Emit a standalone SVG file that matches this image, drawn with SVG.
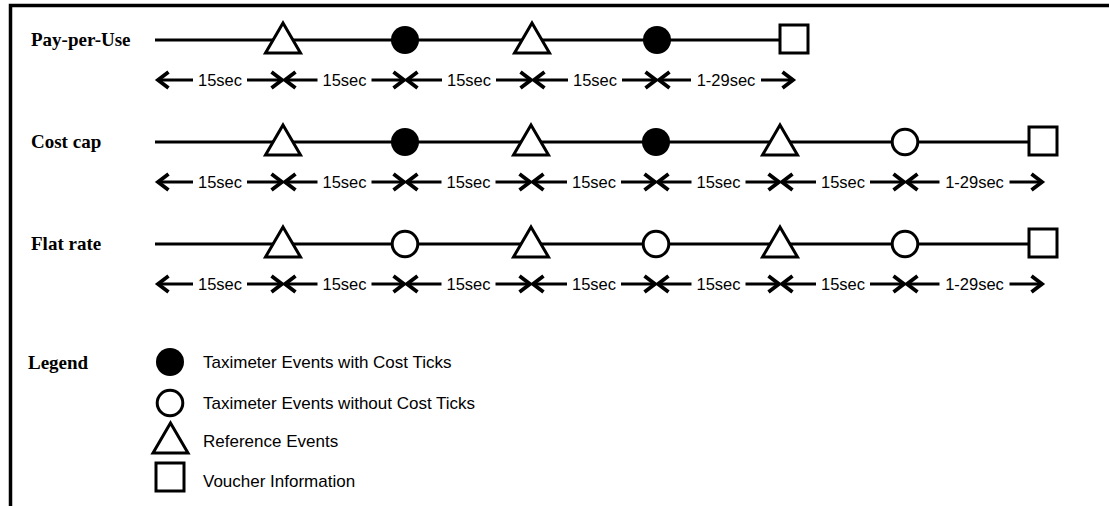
<svg xmlns="http://www.w3.org/2000/svg" width="1109" height="506" viewBox="0 0 1109 506">
<style>
.lbl{font-family:"Liberation Serif","Times New Roman",serif;font-weight:bold;font-size:19px;fill:#000}
.dt{font-family:"Liberation Sans",Arial,sans-serif;font-size:16.5px;fill:#000;text-anchor:middle}
.lt{font-family:"Liberation Sans",Arial,sans-serif;font-size:17px;fill:#000}
.tl{stroke:#000;stroke-width:3;fill:none}
.dl{stroke:#000;stroke-width:3;marker-start:url(#ah)}
.dr{stroke:#000;stroke-width:3;marker-end:url(#ah)}
.sh{stroke:#000;stroke-width:3;fill:#fff}
.fc{fill:#000;stroke:none}
</style>
<defs>
<marker id="ah" viewBox="-16 -11 20 22" markerWidth="20" markerHeight="22" refX="0" refY="0" orient="auto-start-reverse" markerUnits="userSpaceOnUse">
<path d="M-10.5,-8 L0,0 L-10.5,8" fill="none" stroke="#000" stroke-width="3.8"/>
</marker>
<path id="tri" d="M0,-17 L17.5,13 L-17.5,13 Z" class="sh"/>
<circle id="fcirc" r="14" class="fc"/>
<circle id="ocirc" r="12.8" class="sh"/>
<rect id="sq" x="-14" y="-15" width="28" height="28" class="sh"/>
</defs>
<rect width="1109" height="506" fill="#fff"/>
<g id="frame" stroke="#000" stroke-width="3.5" fill="none">
<path d="M10.5,506 V5.5 H1109"/>
</g>
<g id="labels">
<text class="lbl" x="31" y="46">Pay-per-Use</text>
<text class="lbl" x="31" y="148">Cost cap</text>
<text class="lbl" x="31" y="250">Flat rate</text>
<text class="lbl" x="28" y="369">Legend</text>
</g>
<g id="connectors">
<path class="tl" d="M155,40 H780"/>
<path class="tl" d="M155,142 H1029"/>
<path class="tl" d="M155,244 H1029"/>
<line class="dl" x1="158" y1="80" x2="193" y2="80"/><line class="dr" x1="247" y1="80" x2="282" y2="80"/>
<line class="dl" x1="285" y1="80" x2="317.5" y2="80"/><line class="dr" x1="371.5" y1="80" x2="404" y2="80"/>
<line class="dl" x1="407" y1="80" x2="442" y2="80"/><line class="dr" x1="496" y1="80" x2="531" y2="80"/>
<line class="dl" x1="534" y1="80" x2="568" y2="80"/><line class="dr" x1="622" y1="80" x2="656" y2="80"/>
<line class="dl" x1="659" y1="80" x2="691" y2="80"/><line class="dr" x1="761" y1="80" x2="793" y2="80"/>
<line class="dl" x1="158" y1="182" x2="193" y2="182"/><line class="dr" x1="247" y1="182" x2="282" y2="182"/>
<line class="dl" x1="285" y1="182" x2="317.5" y2="182"/><line class="dr" x1="371.5" y1="182" x2="404" y2="182"/>
<line class="dl" x1="407" y1="182" x2="441.5" y2="182"/><line class="dr" x1="495.5" y1="182" x2="530" y2="182"/>
<line class="dl" x1="533" y1="182" x2="567" y2="182"/><line class="dr" x1="621" y1="182" x2="655" y2="182"/>
<line class="dl" x1="658" y1="182" x2="691.5" y2="182"/><line class="dr" x1="745.5" y1="182" x2="779" y2="182"/>
<line class="dl" x1="782" y1="182" x2="816" y2="182"/><line class="dr" x1="870" y1="182" x2="904" y2="182"/>
<line class="dl" x1="907" y1="182" x2="939.5" y2="182"/><line class="dr" x1="1009.5" y1="182" x2="1042" y2="182"/>
<line class="dl" x1="158" y1="284" x2="193" y2="284"/><line class="dr" x1="247" y1="284" x2="282" y2="284"/>
<line class="dl" x1="285" y1="284" x2="317.5" y2="284"/><line class="dr" x1="371.5" y1="284" x2="404" y2="284"/>
<line class="dl" x1="407" y1="284" x2="441.5" y2="284"/><line class="dr" x1="495.5" y1="284" x2="530" y2="284"/>
<line class="dl" x1="533" y1="284" x2="567" y2="284"/><line class="dr" x1="621" y1="284" x2="655" y2="284"/>
<line class="dl" x1="658" y1="284" x2="691.5" y2="284"/><line class="dr" x1="745.5" y1="284" x2="779" y2="284"/>
<line class="dl" x1="782" y1="284" x2="816" y2="284"/><line class="dr" x1="870" y1="284" x2="904" y2="284"/>
<line class="dl" x1="907" y1="284" x2="939.5" y2="284"/><line class="dr" x1="1009.5" y1="284" x2="1042" y2="284"/>
</g>
<g id="durations">
<text class="dt" x="220" y="86">15sec</text>
<text class="dt" x="344.5" y="86">15sec</text>
<text class="dt" x="469" y="86">15sec</text>
<text class="dt" x="595" y="86">15sec</text>
<text class="dt" x="726" y="86">1-29sec</text>
<text class="dt" x="220" y="188">15sec</text>
<text class="dt" x="344.5" y="188">15sec</text>
<text class="dt" x="468.5" y="188">15sec</text>
<text class="dt" x="594" y="188">15sec</text>
<text class="dt" x="718.5" y="188">15sec</text>
<text class="dt" x="843" y="188">15sec</text>
<text class="dt" x="974.5" y="188">1-29sec</text>
<text class="dt" x="220" y="290">15sec</text>
<text class="dt" x="344.5" y="290">15sec</text>
<text class="dt" x="468.5" y="290">15sec</text>
<text class="dt" x="594" y="290">15sec</text>
<text class="dt" x="718.5" y="290">15sec</text>
<text class="dt" x="843" y="290">15sec</text>
<text class="dt" x="974.5" y="290">1-29sec</text>
</g>
<g id="row1-ref1"><use href="#tri" x="283" y="40"/></g>
<g id="row1-tick1"><use href="#fcirc" x="405" y="40"/></g>
<g id="row1-ref2"><use href="#tri" x="532" y="40"/></g>
<g id="row1-tick2"><use href="#fcirc" x="657" y="40"/></g>
<g id="row1-voucher"><use href="#sq" x="794" y="40"/></g>
<g id="row2-ref1"><use href="#tri" x="283" y="142"/></g>
<g id="row2-tick1"><use href="#fcirc" x="405" y="142"/></g>
<g id="row2-ref2"><use href="#tri" x="531" y="142"/></g>
<g id="row2-tick2"><use href="#fcirc" x="656" y="142"/></g>
<g id="row2-ref3"><use href="#tri" x="780" y="142"/></g>
<g id="row2-notick1"><use href="#ocirc" x="905" y="142"/></g>
<g id="row2-voucher"><use href="#sq" x="1043" y="142"/></g>
<g id="row3-ref1"><use href="#tri" x="283" y="244"/></g>
<g id="row3-notick1"><use href="#ocirc" x="405" y="244"/></g>
<g id="row3-ref2"><use href="#tri" x="531" y="244"/></g>
<g id="row3-notick2"><use href="#ocirc" x="656" y="244"/></g>
<g id="row3-ref3"><use href="#tri" x="780" y="244"/></g>
<g id="row3-notick3"><use href="#ocirc" x="905" y="244"/></g>
<g id="row3-voucher"><use href="#sq" x="1043" y="244"/></g>
<g id="legend-tick"><use href="#fcirc" x="170" y="362"/><text class="lt" x="203" y="368">Taximeter Events with Cost Ticks</text></g>
<g id="legend-notick"><use href="#ocirc" x="170" y="403"/><text class="lt" x="203" y="409">Taximeter Events without Cost Ticks</text></g>
<g id="legend-ref"><use href="#tri" x="170.5" y="440"/><text class="lt" x="203" y="447">Reference Events</text></g>
<g id="legend-voucher"><use href="#sq" x="170" y="478"/><text class="lt" x="203" y="487">Voucher Information</text></g>
</svg>
